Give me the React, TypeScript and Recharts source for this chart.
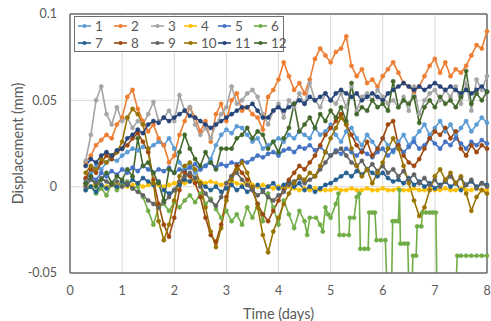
import { LineChart, Line, XAxis, YAxis, CartesianGrid, ReferenceLine } from 'recharts';

// time base (days) shared by series 1-5 and 7-12
const TIME = [
  0.3, 0.4, 0.5, 0.6, 0.7, 0.8, 0.9, 1.0, 1.1, 1.2,
  1.3, 1.4, 1.5, 1.6, 1.7, 1.8, 1.9, 2.0, 2.1, 2.2,
  2.3, 2.4, 2.5, 2.6, 2.7, 2.8, 2.9, 3.0, 3.1, 3.2,
  3.3, 3.4, 3.5, 3.6, 3.7, 3.8, 3.9, 4.0, 4.1, 4.2,
  4.3, 4.4, 4.5, 4.6, 4.7, 4.8, 4.9, 5.0, 5.1, 5.2,
  5.3, 5.4, 5.5, 5.6, 5.7, 5.8, 5.9, 6.0, 6.1, 6.2,
  6.3, 6.4, 6.5, 6.6, 6.7, 6.8, 6.9, 7.0, 7.1, 7.2,
  7.3, 7.4, 7.5, 7.6, 7.7, 7.8, 7.9, 8.0,
];

// displacement values in µm (1e-3 mm)
const S1 = [
  4, 8, 12, 10, 14, 16, 15, 18, 20, 22,
  21, 23, 22, 24, 26, 24, 28, 22, 14, 10,
  12, 8, 10, 12, 16, 24, 30, 33, 31, 35,
  34, 30, 26, 28, 22, 24, 26, 28, 26, 30,
  28, 32, 30, 28, 34, 30, 32, 36, 30, 26,
  32, 34, 28, 24, 30, 26, 22, 28, 24, 20,
  26, 30, 24, 28, 32, 36, 30, 34, 38, 32,
  36, 30, 34, 38, 32, 36, 40, 37,
];
const S2 = [
  14, 18, 24, 27, 30, 28, 36, 40, 52, 56,
  45, 38, 32, 36, 28, 24, 14, 18, 30, 38,
  46, 40, 32, 38, 26, 42, 48, 38, 50, 54,
  44, 46, 42, 40, 33, 52, 56, 62, 72, 64,
  56, 60, 54, 62, 74, 80, 76, 72, 78, 80,
  87, 70, 64, 68, 60, 62, 58, 64, 68, 72,
  66, 60, 58, 55, 58, 64, 70, 74, 66, 72,
  64, 68, 66, 70, 76, 82, 80, 90,
];
const S3 = [
  15, 30, 50, 58, 42, 36, 46, 38, 40, 34,
  38, 36, 42, 49, 38, 40, 44, 38, 53, 44,
  46, 36, 30, 34, 28, 36, 42, 46, 58, 48,
  50, 54, 56, 52, 42, 36, 44, 48, 40, 50,
  46, 54, 48, 60, 50, 46, 54, 50, 48, 54,
  46, 58, 44, 52, 54, 50, 56, 52, 48, 50,
  46, 52, 44, 58, 42, 50, 54, 56, 50, 56,
  52, 58, 48, 60, 44, 62, 56, 64,
];
const S4 = [
  1, 0, 2, 1, 0, 1, 2, 1, 0, 1,
  2, 0, 1, 2, 1, 0, 1, 2, 3, 2,
  3, 4, 3, 2, 3, 2, 1, 2, 3, 2,
  1, 2, 1, 0, 1, 0, -1, 0, -1, 0,
  -1, -2, -1, -2, -1, -2, -2, -2, -1, -2,
  -2, -1, -2, -2, -1, -2, -2, -1, -2, -2,
  -1, -2, -2, -1, -2, -2, -1, -2, -2, -1,
  -2, -2, -1, -2, -2, -1, -2, -2,
];
const S5 = [
  2, 6, 4, 8, 6, 9, 7, 10, 8, 11,
  9, 12, 10, 8, 10, 9, 11, 8, 10, 9,
  11, 13, 10, 12, 14, 11, 13, 12, 14, 13,
  15, 14, 16, 18, 17, 19, 20, 18, 21, 22,
  20, 23, 22, 24, 21, 23, 20, 18, 21, 19,
  22, 20, 18, 21, 19, 17, 20, 22, 18, 21,
  24, 20, 23, 26, 22, 24, 28, 25, 22, 26,
  24, 28, 25, 22, 26, 24, 27, 25,
];
// series 6 has its own time base (step-like readings after day 4.4)
const TIME6 = [
  0.3, 0.4, 0.5, 0.6, 0.7, 0.8, 0.9, 1.0, 1.1, 1.2,
  1.3, 1.4, 1.5, 1.6, 1.7, 1.8, 1.9, 2.0, 2.1, 2.2,
  2.3, 2.4, 2.5, 2.6, 2.7, 2.8, 2.9, 3.0, 3.1, 3.2,
  3.3, 3.4, 3.5, 3.6, 3.7, 3.8, 3.9, 4.0, 4.1, 4.2,
  4.3, 4.4, 4.5, 4.55, 4.6, 4.72, 4.8, 4.85, 4.9, 4.95,
  5.0, 5.1, 5.15, 5.17, 5.25, 5.35, 5.37, 5.45, 5.5, 5.55,
  5.57, 5.65, 5.72, 5.74, 5.8, 5.85, 5.88, 5.96, 6.05, 6.08,
  6.17, 6.19, 6.25, 6.3, 6.32, 6.34, 6.41, 6.48, 6.5, 6.56,
  6.58, 6.64, 6.66, 6.74, 6.76, 6.83, 6.9, 6.96, 7.02, 7.04,
  7.4, 7.43, 7.5, 7.6, 7.7, 7.8, 7.9, 8.0,
];
const S6 = [
  -2, 0, -4, -1, -5, 2, -2, 1, 3, -1,
  0, -6, -14, -22, -12, -10, -14, -9, -12, -8,
  -5, -9, -4, -10, -7, -13, -18, -14, -20, -16,
  -22, -12, -18, -10, -20, -4, -12, -22, -8, -16,
  -24, -14, -20, -28, -18, -18, -22, -26, -12, -16,
  -18, -10, -4, -28, -28, -28, -18, -18, -6, -4,
  -36, -36, -36, -15, -15, -15, -31, -31, -31, -58,
  -58, -20, -20, -20, -2, -33, -33, -33, -58, -58,
  -40, -40, -23, -23, -15, -15, -15, -15, -15, -60,
  -60, -40, -40, -40, -40, -40, -40, -40,
];
const S7 = [
  -2, 0, -3, 1, -1, 2, 0, 3, 1, 4,
  2, 5, 3, 1, 3, -2, -4, -2, 1, 4,
  3, 5, 2, 0, -2, 0, -3, -1, 1, -2,
  0, -3, -1, 1, -2, 0, 2, -1, 1, 3,
  0, 2, -2, 0, -3, -1, 1, 2, 4, 6,
  8, 6, 9, 7, 10, 8, 6, 8, 5, 3,
  4, 2, 5, 1, 3, 0, 2, -1, 1, 3,
  0, 2, -2, 1, 3, 0, 2, 1,
];
const S8 = [
  5, 10, 8, 14, 18, 16, 20, 22, 24, 28,
  31, 26, 20, 4, -10, -22, -29, -18, -2, 8,
  6, 2, -6, -18, -28, -32, -22, -6, 6, 12,
  8, 4, -2, -10, -16, -20, -14, -8, -2, 4,
  8, 12, 10, 14, 18, 24, 30, 34, 38, 42,
  36, 30, 24, 20, 26, 18, 22, 28, 36, 38,
  24, 18, 14, 12, 16, 22, 28, 32, 30, 34,
  28, 32, 22, 18, 24, 20, 24, 22,
];
const S9 = [
  0, 4, 2, 5, 3, 1, 3, 0, 2, -1,
  -3, -5, -8, -10, -12, -9, -6, -2, 3, 6,
  8, 5, 0, -4, -8, -11, -6, 2, 6, 8,
  4, 1, -2, -5, -3, -6, -8, -5, -3, 1,
  3, 5, 2, 4, 6, 10, 14, 18, 20, 22,
  18, 14, 12, 15, 10, 13, 9, 12, 8, 10,
  6, 9, 4, 7, 2, 5, 1, 4, 0, 3,
  6, 2, 5, 1, 4, -1, 2, 0,
];
const S10 = [
  8, 12, 10, 16, 14, 18, 20, 26, 40, 45,
  42, 36, 22, 2, -20, -31, -22, -8, 6, 12,
  14, 10, 2, -12, -26, -35, -24, -8, 4, 10,
  14, 8, 0, -12, -28, -38, -26, -18, -10, -4,
  2, 6, 4, 8, 6, 12, 20, 28, 34, 40,
  36, 22, 12, 6, 10, 2, 8, 14, 22, 28,
  22, 12, 2, -8, -17, -12, -2, 6, 10, 4,
  8, 2, 6, -4, -14, -6, -2, -4,
];
const S11 = [
  12, 16, 14, 18, 20, 18, 21, 22, 28, 30,
  33, 31, 36, 38, 37, 40, 38, 40, 42, 44,
  41, 40, 38, 36, 34, 36, 38, 40, 42, 44,
  46, 46, 48, 44, 40, 40, 44, 46, 44, 46,
  48, 50, 48, 52, 50, 52, 54, 50, 54, 56,
  54, 52, 54, 50, 52, 54, 52, 50, 54, 56,
  58, 60, 58, 56, 58, 56, 58, 60, 58, 56,
  58, 56, 54, 56, 54, 56, 58, 55,
];
const S12 = [
  2, 6, 0, 4, 8, 2, 6, 4, 10, 6,
  28, 12, 14, 8, 2, -8, 10, 8, 20, 30,
  22, 16, 12, 20, 14, 10, 22, 22, 22, 28,
  30, 34, 28, 32, 30, 22, 26, 20, 28, 34,
  48, 32, 36, 40, 34, 42, 38, 44, 40, 46,
  38, 60, 42, 46, 44, 50, 46, 48, 44, 61,
  46, 50, 48, 52, 37, 46, 50, 46, 52, 48,
  50, 46, 52, 67, 48, 54, 50, 55,
];

const NAMES = ['1', '2', '3', '4', '5', '6', '7', '8', '9', '10', '11', '12'];
const COLORS = [
  '#5B9BD5', '#ED7D31', '#A5A5A5', '#FFC000', '#4472C4', '#70AD47',
  '#255E91', '#9E480E', '#636363', '#997300', '#264478', '#43682B',
];
const X_TICKS = [0, 1, 2, 3, 4, 5, 6, 7, 8];
const Y_TICKS = [-0.05, 0, 0.05, 0.1];

const toPoints = (times: number[], vals: number[]) =>
  times.map((t, i) => ({ t, v: vals[i] / 1000 }));

const SERIES = [
  toPoints(TIME, S1), toPoints(TIME, S2), toPoints(TIME, S3), toPoints(TIME, S4),
  toPoints(TIME, S5), toPoints(TIME6, S6), toPoints(TIME, S7), toPoints(TIME, S8),
  toPoints(TIME, S9), toPoints(TIME, S10), toPoints(TIME, S11), toPoints(TIME, S12),
];

const FONT = 'Lato, "Open Sans", sans-serif';
const TEXT = '#595959';
const FRAME = '#6f6f6f';

const LEGEND_X = [2, 38, 75, 108, 142, 178];

function LegendBox() {
  return (
    <div
      style={{
        position: 'absolute', left: 74, top: 16, width: 208, height: 34,
        border: `1px solid ${FRAME}`, background: '#fff', fontFamily: FONT,
        fontSize: 13.5, color: TEXT,
      }}
    >
      {NAMES.map((n, i) => {
        const col = i % 6;
        const row = Math.floor(i / 6);
        return (
          <div
            key={n}
            style={{
              position: 'absolute', left: LEGEND_X[col], top: 1 + row * 17,
              height: 16, display: 'flex', alignItems: 'center', whiteSpace: 'nowrap',
            }}
          >
            <svg width={15} height={8} style={{ marginRight: 3 }}>
              <line x1={1} y1={4} x2={14} y2={4} stroke={COLORS[i]} strokeWidth={1.6} />
              <circle cx={7.5} cy={4} r={2.1} fill={COLORS[i]} />
            </svg>
            <span>{n}</span>
          </div>
        );
      })}
    </div>
  );
}

export default function App() {
  return (
    <div style={{ position: 'relative', width: 491, height: 321, background: '#fff' }}>
      <style>{'body{margin:0}'}</style>
      <LineChart
        width={491}
        height={321}
        margin={{ top: 14, right: 4, bottom: 0, left: 0 }}
      >
        <CartesianGrid stroke="#d9d9d9" />
        <XAxis
          type="number"
          dataKey="t"
          domain={[0, 8]}
          ticks={X_TICKS}
          height={48}
          tickSize={0}
          tickMargin={13}
          axisLine={{ stroke: FRAME, strokeWidth: 1.5 }}
          tick={{ fill: TEXT, fontSize: 12.5, fontFamily: FONT }}
          label={{
            value: 'Time (days)', position: 'insideBottom', offset: 2,
            style: { fill: TEXT, fontSize: 14.5, fontFamily: FONT },
          }}
        />
        <YAxis
          type="number"
          domain={[-0.05, 0.1]}
          ticks={Y_TICKS}
          allowDataOverflow
          width={70}
          tickSize={0}
          tickMargin={13}
          axisLine={{ stroke: FRAME, strokeWidth: 1.5 }}
          tick={{ fill: TEXT, fontSize: 12.5, fontFamily: FONT }}
          tickFormatter={(v: number) => String(v)}
          label={{
            value: 'Displacement (mm)', angle: -90, position: 'insideLeft', offset: 18,
            style: { fill: TEXT, fontSize: 14.5, fontFamily: FONT, textAnchor: 'middle' },
          }}
        />
        <ReferenceLine y={0.1} stroke={FRAME} strokeWidth={1.5} />
        <ReferenceLine x={8} stroke={FRAME} strokeWidth={1.5} />
        {SERIES.map((data, i) => (
          <Line
            key={NAMES[i]}
            data={data}
            dataKey="v"
            name={NAMES[i]}
            type="linear"
            stroke={COLORS[i]}
            strokeWidth={1.6}
            dot={{ r: 2.1, fill: COLORS[i], stroke: COLORS[i], strokeWidth: 0.5 }}
            isAnimationActive={false}
          />
        ))}
      </LineChart>
      <LegendBox />
    </div>
  );
}
